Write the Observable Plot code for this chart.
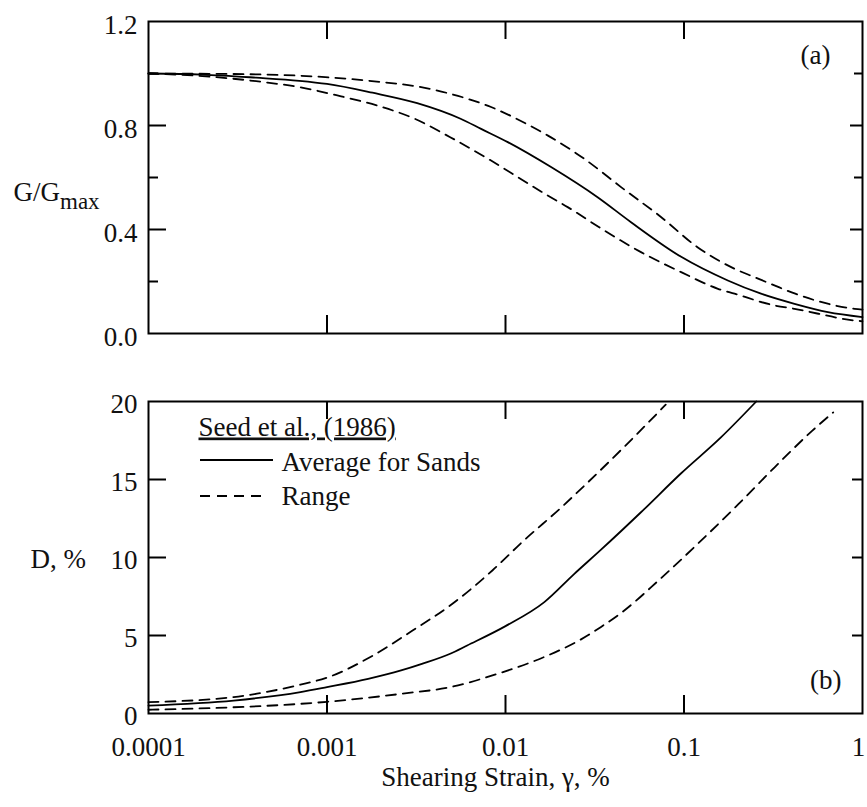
<!DOCTYPE html>
<html>
<head>
<meta charset="utf-8">
<script src="https://cdn.jsdelivr.net/npm/d3@7"></script>
<script src="https://cdn.jsdelivr.net/npm/@observablehq/plot@0.6"></script>
<style>
  html, body { margin: 0; padding: 0; background: white; overflow: hidden; }
  #chart svg { display: block; }
</style>
</head>
<body>
<div id="chart"></div>
<script>
// ---- Data ----
// Panel (a): G/Gmax vs shearing strain (%)
const avgGx = [0.0001, 0.0002, 0.0004, 0.0007, 0.001, 0.0018, 0.0032, 0.0056, 0.0073, 0.0103, 0.018, 0.0328, 0.0505, 0.0964, 0.176, 0.27, 0.416, 0.64, 1.0];
const avgGy = [1.0, 0.996, 0.984, 0.972, 0.96, 0.926, 0.886, 0.826, 0.787, 0.736, 0.640, 0.524, 0.428, 0.295, 0.204, 0.153, 0.114, 0.082, 0.063];
const upGx = [0.0001, 0.0003, 0.00088, 0.0019, 0.0032, 0.0049, 0.0083, 0.0133, 0.0172, 0.0276, 0.0444, 0.0743, 0.119, 0.192, 0.248, 0.321, 0.42, 0.904, 1.0];
const upGy = [1.0, 0.998, 0.988, 0.969, 0.95, 0.922, 0.871, 0.804, 0.762, 0.672, 0.563, 0.448, 0.332, 0.249, 0.217, 0.185, 0.153, 0.095, 0.092];
const loGx = [0.0001, 0.0002, 0.00044, 0.00071, 0.0012, 0.0019, 0.0031, 0.0049, 0.0083, 0.0133, 0.0172, 0.0223, 0.0358, 0.0574, 0.0964, 0.155, 0.192, 0.321, 0.416, 0.904, 1.0];
const loGy = [1.0, 0.99, 0.967, 0.947, 0.912, 0.877, 0.826, 0.755, 0.665, 0.578, 0.531, 0.486, 0.396, 0.313, 0.236, 0.172, 0.153, 0.108, 0.095, 0.05, 0.047];

// Panel (b): damping D (%) vs shearing strain (%)
const avgDx = [0.0001, 0.0003, 0.00071, 0.001, 0.0017, 0.0026, 0.0034, 0.0049, 0.0061, 0.01, 0.0165, 0.0243, 0.0343, 0.0574, 0.0964, 0.161, 0.254];
const avgDy = [0.51, 0.83, 1.37, 1.69, 2.22, 2.76, 3.18, 3.83, 4.36, 5.6, 7.14, 8.95, 10.5, 12.9, 15.4, 17.7, 20.0];
const upDx = [0.0001, 0.0003, 0.00071, 0.001, 0.0018, 0.003, 0.005, 0.0085, 0.0127, 0.0205, 0.0265, 0.0463, 0.076, 0.079];
const upDy = [0.73, 1.05, 1.85, 2.3, 3.7, 5.3, 7.0, 9.2, 11.1, 13.2, 14.4, 17.1, 19.6, 19.8];
const loDx = [0.0001, 0.0003, 0.00071, 0.001, 0.0026, 0.0049, 0.009, 0.0171, 0.0265, 0.0343, 0.0445, 0.0716, 0.120, 0.201, 0.323, 0.520, 0.685];
const loDy = [0.24, 0.4, 0.62, 0.75, 1.26, 1.69, 2.54, 3.7, 4.75, 5.55, 6.45, 8.5, 10.9, 13.4, 15.8, 18.1, 19.3];

// Ticks and labels
const xTicks = [0.0001, 0.001, 0.01, 0.1, 1];
const xTickLabels = ["0.0001", "0.001", "0.01", "0.1", "1"];
const xInnerTicks = [0.001, 0.01, 0.1];
const gTicks = [0, 0.4, 0.8, 1.2];
const gTickLabels = ["0.0", "0.4", "0.8", "1.2"];
const gMajorInner = [0.4, 0.8];
const gMinor = [0.2, 0.6, 1.0];
const dTicks = [0, 5, 10, 15, 20];
const dTickLabels = ["0", "5", "10", "15", "20"];
const dInner = [5, 10, 15];

const xTitle = "Shearing Strain, γ, %";
const gTitle = "G/G";
const gTitleSub = "max";
const dTitle = "D, %";
const legendTitle = "Seed et al., (1986)";
const legendAvg = "Average for Sands";
const legendRange = "Range";

// ---- Layout ----
const W = 867;
const FONT = "'Liberation Serif', 'Times New Roman', serif";
const FS = 27;
const frameW = 862 - 148;
const frameH = 312;

const rows = (xs, ys) => xs.map((x, i) => ({x, y: ys[i]}));

function xTickMarks() {
  return [
    Plot.tickX(xInnerTicks, {x: d => d, stroke: "black", strokeWidth: 2, insetBottom: frameH - 18}),
    Plot.tickX(xInnerTicks, {x: d => d, stroke: "black", strokeWidth: 2, insetTop: frameH - 18})
  ];
}

const lineOpts = {x: "x", y: "y", stroke: "black", strokeWidth: 1.8, curve: "monotone-x"};
const dashOpts = {...lineOpts, strokeDasharray: "10,7"};

const topPlot = Plot.plot({
  width: W, height: 360,
  marginLeft: 148, marginRight: 5, marginTop: 21, marginBottom: 27,
  style: {fontFamily: FONT, fontSize: FS + "px", background: "white", color: "#111"},
  x: {type: "log", domain: [0.0001, 1], axis: null},
  y: {domain: [0, 1.2], axis: null},
  marks: [
    Plot.line(rows(upGx, upGy), dashOpts),
    Plot.line(rows(loGx, loGy), dashOpts),
    Plot.line(rows(avgGx, avgGy), lineOpts),
    ...xTickMarks(),
    Plot.tickY(gMajorInner, {y: d => d, stroke: "black", strokeWidth: 2, insetRight: frameW - 18}),
    Plot.tickY(gMinor, {y: d => d, stroke: "black", strokeWidth: 2, insetRight: frameW - 10}),
    Plot.tickY(gMajorInner, {y: d => d, stroke: "black", strokeWidth: 2, insetLeft: frameW - 12}),
    Plot.tickY(gMinor, {y: d => d, stroke: "black", strokeWidth: 2, insetLeft: frameW - 8}),
    Plot.frame({stroke: "black", strokeWidth: 2}),
    Plot.text(gTicks, {y: d => d, text: (d, i) => gTickLabels[i], frameAnchor: "left", textAnchor: "end", lineAnchor: "bottom", dx: -11, dy: 12, fontSize: FS}),
    Plot.text([gTitle], {frameAnchor: "left", textAnchor: "start", lineAnchor: "bottom", dx: -135, dy: 23, fontSize: FS}),
    Plot.text(["(a)"], {frameAnchor: "top-right", textAnchor: "end", lineAnchor: "bottom", dx: -32, dy: 42, fontSize: FS})
  ]
});

const bottomPlot = Plot.plot({
  width: W, height: 447,
  marginLeft: 148, marginRight: 5, marginTop: 41, marginBottom: 94,
  style: {fontFamily: FONT, fontSize: FS + "px", background: "white", color: "#111"},
  x: {type: "log", domain: [0.0001, 1], axis: null},
  y: {domain: [0, 20], axis: null},
  marks: [
    Plot.line(rows(upDx, upDy), dashOpts),
    Plot.line(rows(loDx, loDy), dashOpts),
    Plot.line(rows(avgDx, avgDy), lineOpts),
    ...xTickMarks(),
    Plot.tickY(dInner, {y: d => d, stroke: "black", strokeWidth: 2, insetRight: frameW - 18}),
    Plot.tickY(dInner, {y: d => d, stroke: "black", strokeWidth: 2, insetLeft: frameW - 10}),
    Plot.frame({stroke: "black", strokeWidth: 2}),
    Plot.text(dTicks, {y: d => d, text: (d, i) => dTickLabels[i], frameAnchor: "left", textAnchor: "end", lineAnchor: "bottom", dx: -11, dy: 11, fontSize: FS}),
    Plot.text(xTicks, {x: d => d, text: (d, i) => xTickLabels[i], frameAnchor: "bottom", textAnchor: "middle", lineAnchor: "bottom", dy: 42, fontSize: FS}),
    Plot.text([xTitle], {frameAnchor: "bottom", textAnchor: "middle", lineAnchor: "bottom", dx: -10, dy: 72, fontSize: FS}),
    Plot.text([dTitle], {frameAnchor: "left", textAnchor: "start", lineAnchor: "bottom", dx: -118, dy: 10, fontSize: FS}),
    Plot.text([legendTitle], {frameAnchor: "top-left", textAnchor: "start", lineAnchor: "bottom", dx: 50, dy: 34, fontSize: FS}),
    Plot.text([legendAvg], {frameAnchor: "top-left", textAnchor: "start", lineAnchor: "bottom", dx: 133, dy: 69, fontSize: FS}),
    Plot.text([legendRange], {frameAnchor: "top-left", textAnchor: "start", lineAnchor: "bottom", dx: 133, dy: 103, fontSize: FS}),
    Plot.text(["(b)"], {frameAnchor: "bottom-right", textAnchor: "end", lineAnchor: "bottom", dx: -21, dy: -25, fontSize: FS})
  ]
});

const chart = document.getElementById("chart");
chart.appendChild(topPlot);
chart.appendChild(bottomPlot);

// Subscript for G/Gmax
d3.select(topPlot).selectAll("text").filter(function() { return this.textContent === gTitle; })
  .append("tspan").attr("dy", 8).attr("font-size", 23).text(gTitleSub);

// Underline the legend title
d3.select(bottomPlot).selectAll("text").filter(function() { return this.textContent === legendTitle; })
  .attr("text-decoration", "underline");

// Keep the last x tick label ("1") inside the page
d3.select(bottomPlot).selectAll("text").filter(function() { return this.textContent === "1"; })
  .attr("dx", -4);

// Legend swatches (decoration, positioned relative to the frame)
const bsvg = d3.select(bottomPlot);
const fx = 148, fy = 41;
bsvg.append("line").attr("x1", fx + 52).attr("x2", fx + 125).attr("y1", fy + 59).attr("y2", fy + 59)
  .attr("stroke", "black").attr("stroke-width", 1.8);
bsvg.append("line").attr("x1", fx + 52).attr("x2", fx + 118).attr("y1", fy + 95).attr("y2", fy + 95)
  .attr("stroke", "black").attr("stroke-width", 1.8).attr("stroke-dasharray", "10,7");
</script>
</body>
</html>
